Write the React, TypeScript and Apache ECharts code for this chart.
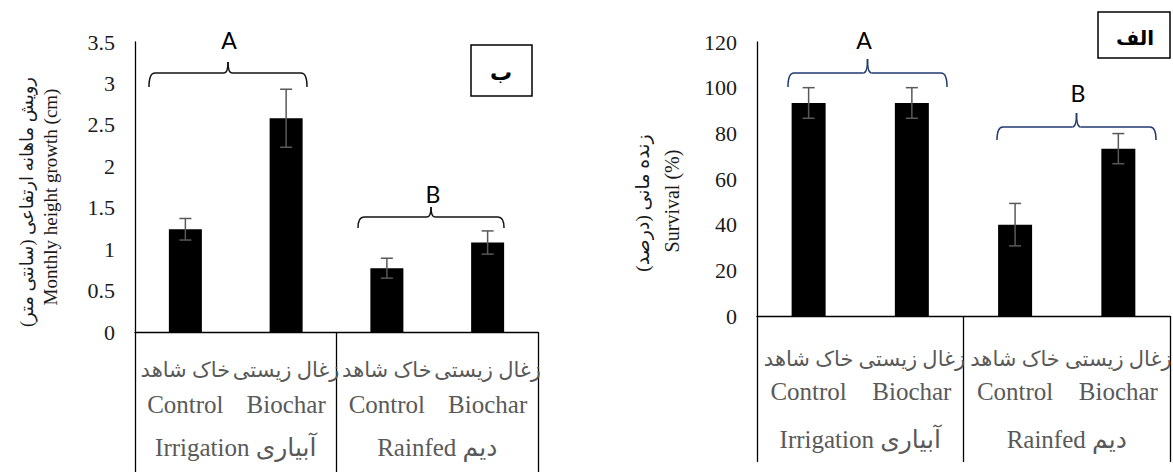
import React, { useEffect, useRef } from "react";
import * as echarts from "echarts";

const categoriesEn = ["Control", "Biochar", "Control", "Biochar"];
const categoriesFa = ["خاک شاهد", "زغال زیستی", "خاک شاهد", "زغال زیستی"];
const groups = ["Irrigation آبیاری", "Rainfed دیم"];
const growth = [1.24, 2.58, 0.77, 1.08];
const growthErr = [0.13, 0.35, 0.12, 0.14];
const survival = [93.3, 93.3, 40, 73.3];
const survivalErr = [6.7, 6.7, 9.3, 6.6];
const growthTicks = { min: 0, max: 3.5, interval: 0.5 };
const survivalTicks = { min: 0, max: 120, interval: 20 };

const serif = "Liberation Serif, DejaVu Sans, serif";
const sans = "Lato, Open Sans, DejaVu Sans, sans-serif";
const grey = "#595959";
const axisColor = "#000";

function brace(x1: number, x2: number, yH: number, yEnd: number, yPeak: number, color: string) {
  const xm = (x1 + x2) / 2;
  const r = 6;
  const m = 4;
  const st = { stroke: color, lineWidth: 1.5, fill: "none" };
  return [
    { type: "bezierCurve", shape: { x1: x1, y1: yEnd, x2: x1 + r, y2: yH, cpx1: x1, cpy1: yH }, style: st },
    { type: "line", shape: { x1: x1 + r, y1: yH, x2: xm - m, y2: yH }, style: st },
    { type: "bezierCurve", shape: { x1: xm - m, y1: yH, x2: xm, y2: yPeak, cpx1: xm, cpy1: yH }, style: st },
    { type: "bezierCurve", shape: { x1: xm, y1: yPeak, x2: xm + m, y2: yH, cpx1: xm, cpy1: yH }, style: st },
    { type: "line", shape: { x1: xm + m, y1: yH, x2: x2 - r, y2: yH }, style: st },
    { type: "bezierCurve", shape: { x1: x2 - r, y1: yH, x2: x2, y2: yEnd, cpx1: x2, cpy1: yH }, style: st },
  ];
}

function txt(x: number, y: number, text: string, fontSize: number, fontFamily: string, fill: string, extra: any = {}) {
  return {
    type: "text",
    x,
    y,
    ...extra,
    style: { text, fontSize, fontFamily, fill, align: "center", verticalAlign: "middle", ...(extra.style || {}) },
  };
}

function errRender(params: any, api: any) {
  const i = api.value(0);
  const lo = api.coord([i, api.value(1)]);
  const hi = api.coord([i, api.value(2)]);
  const cap = 6;
  const st = { stroke: grey, lineWidth: 1.5 };
  return {
    type: "group",
    children: [
      { type: "line", shape: { x1: hi[0], y1: hi[1], x2: lo[0], y2: lo[1] }, style: st },
      { type: "line", shape: { x1: hi[0] - cap, y1: hi[1], x2: hi[0] + cap, y2: hi[1] }, style: st },
      { type: "line", shape: { x1: lo[0] - cap, y1: lo[1], x2: lo[0] + cap, y2: lo[1] }, style: st },
    ],
  };
}

function catAxis(gridIndex: number, margin: number, lh: number) {
  return {
    type: "category",
    gridIndex,
    data: categoriesEn,
    position: "bottom",
    axisLine: { show: true, lineStyle: { color: axisColor, width: 1.3 } },
    axisTick: { show: false },
    axisLabel: {
      interval: 0,
      margin,
      formatter: (v: string, i: number) => `{fa|${categoriesFa[i]}}\n{en|${v}}`,
      rich: {
        fa: { fontSize: 21, lineHeight: lh, color: grey, fontFamily: serif },
        en: { fontSize: 25, lineHeight: lh, color: grey, fontFamily: serif },
      },
    },
  };
}

function groupAxis(gridIndex: number, margin: number, tickLen: number) {
  return {
    type: "category",
    gridIndex,
    data: groups,
    position: "bottom",
    axisLine: { show: false },
    axisTick: { show: true, interval: 0, length: tickLen, lineStyle: { color: axisColor, width: 1.3 } },
    axisLabel: { interval: 0, margin, fontSize: 25, lineHeight: 30, color: grey, fontFamily: serif },
  };
}

function valAxis(gridIndex: number, t: any) {
  return {
    type: "value",
    gridIndex,
    min: t.min,
    max: t.max,
    interval: t.interval,
    splitLine: { show: false },
    axisLine: { show: true, lineStyle: { color: axisColor, width: 1.3 } },
    axisTick: { show: false },
    axisLabel: { margin: 20, fontSize: 22, color: "#1a1a1a", fontFamily: serif },
  };
}

export default function App() {
  const ref = useRef<HTMLDivElement>(null);
  useEffect(() => {
    if (!ref.current) return;
    const chart = echarts.init(ref.current, undefined, { renderer: "svg" });
    const navy = "#1f3a6e";
    chart.setOption({
      animation: false,
      backgroundColor: "#fff",
      grid: [
        { left: 135, top: 42, width: 403, height: 290, containLabel: false },
        { left: 757, top: 42, width: 426, height: 274, containLabel: false },
      ],
      xAxis: [catAxis(0, 20, 35), groupAxis(0, 100, 145), catAxis(1, 27, 32), groupAxis(1, 108, 146)],
      yAxis: [valAxis(0, growthTicks), valAxis(1, survivalTicks)],
      series: [
        { type: "bar", xAxisIndex: 0, yAxisIndex: 0, data: growth, barWidth: 33, itemStyle: { color: "#000" } },
        {
          type: "custom",
          xAxisIndex: 0,
          yAxisIndex: 0,
          renderItem: errRender,
          data: growth.map((v, i) => [i, v - growthErr[i], v + growthErr[i]]),
          z: 5,
        },
        { type: "bar", xAxisIndex: 2, yAxisIndex: 1, data: survival, barWidth: 34, itemStyle: { color: "#000" } },
        {
          type: "custom",
          xAxisIndex: 2,
          yAxisIndex: 1,
          renderItem: errRender,
          data: survival.map((v, i) => [i, v - survivalErr[i], v + survivalErr[i]]),
          z: 5,
        },
      ],
      graphic: [
        ...brace(149, 307, 73, 87, 62, "#111"),
        ...brace(358, 504, 217, 228, 207, "#111"),
        ...brace(788, 947, 73, 87, 59, navy),
        ...brace(997, 1156, 127, 140, 113, navy),
        txt(229, 40, "A", 23, sans, "#000"),
        txt(433, 194, "B", 23, sans, "#000"),
        txt(864, 40, "A", 23, sans, "#000"),
        txt(1078, 93, "B", 23, sans, "#000"),
        { type: "rect", shape: { x: 471, y: 45, width: 61, height: 51 }, style: { fill: "#fff", stroke: "#000", lineWidth: 1.5 } },
        txt(501, 72, "ب", 22, serif, "#000", { style: { fontWeight: "bold" } }),
        { type: "rect", shape: { x: 1098, y: 12, width: 72, height: 46 }, style: { fill: "#fff", stroke: "#000", lineWidth: 1.5 } },
        txt(1135, 38, "الف", 20, serif, "#000", { style: { fontWeight: "bold" } }),
        txt(27, 202, "رویش ماهانه ارتفاعی (سانتی متر)", 18, serif, "#1a1a1a", { rotation: Math.PI / 2 }),
        txt(50, 197, "Monthly height growth (cm)", 19, serif, "#1a1a1a", { rotation: Math.PI / 2 }),
        txt(642, 203, "زنده مانی (درصد)", 19, serif, "#1a1a1a", { rotation: Math.PI / 2 }),
        txt(672, 201, "Survival (%)", 20, serif, "#1a1a1a", { rotation: Math.PI / 2 }),
      ],
    });
    return () => chart.dispose();
  }, []);
  return (
    <div
      ref={ref}
      style={{ position: "fixed", left: 0, top: 0, width: 1173, height: 472, background: "#fff" }}
    />
  );
}
